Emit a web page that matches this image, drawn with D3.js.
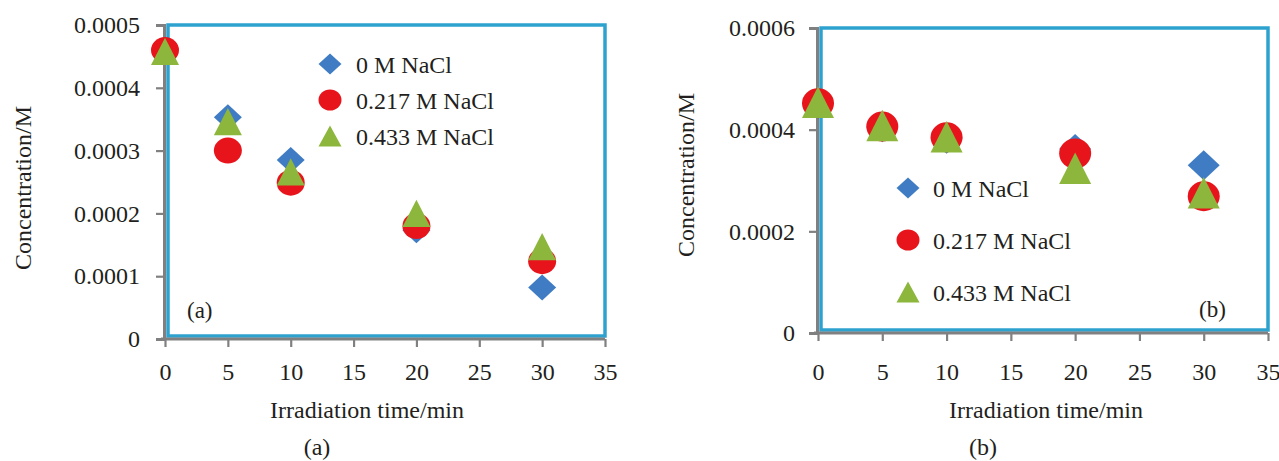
<!DOCTYPE html>
<html>
<head>
<meta charset="utf-8">
<script src="https://cdn.jsdelivr.net/npm/d3@7/dist/d3.min.js"></script>
<style>
  html, body { margin: 0; padding: 0; background: #fff; }
  svg { display: block; }
  text { font-family: "Liberation Serif", "Times New Roman", serif; fill: #231f20; }
</style>
</head>
<body>
<svg id="chart" width="1279" height="461"></svg>
<script>
// ---- data ----
const times = [0, 5, 10, 20, 30];
const seriesNames = ["0 M NaCl", "0.217 M NaCl", "0.433 M NaCl"];
const seriesColors = ["#3f7cc4", "#e8141c", "#8cb63c"];
const seriesShapes = ["diamond", "circle", "triangle"];

// Panel (a)
const a_0M   = [0.000460, 0.000353, 0.000285, 0.000173, 0.000082];
const a_217M = [0.000460, 0.000300, 0.000249, 0.000180, 0.000124];
const a_433M = [0.000458, 0.000346, 0.000266, 0.000200, 0.000147];
// Panel (b)
const b_0M   = [0.000452, 0.000405, 0.000382, 0.000362, 0.000330];
const b_217M = [0.000452, 0.000406, 0.000385, 0.000353, 0.000269];
const b_433M = [0.000454, 0.000408, 0.000386, 0.000324, 0.000276];

const xTicks = [0, 5, 10, 15, 20, 25, 30, 35];
const xTickLabels = ["0", "5", "10", "15", "20", "25", "30", "35"];
const aYTicks = [0, 0.0001, 0.0002, 0.0003, 0.0004, 0.0005];
const aYTickLabels = ["0", "0.0001", "0.0002", "0.0003", "0.0004", "0.0005"];
const bYTicks = [0, 0.0002, 0.0004, 0.0006];
const bYTickLabels = ["0", "0.0002", "0.0004", "0.0006"];

const xTitle = "Irradiation time/min";
const yTitle = "Concentration/M";

const svg = d3.select("#chart");

function shapePath(shape, w, h) {
  const hw = w / 2, hh = h / 2;
  if (shape === "diamond") return `M0,${-hh}L${hw},0L0,${hh}L${-hw},0Z`;
  if (shape === "triangle") return `M0,${-hh}L${hw},${hh}L${-hw},${hh}Z`;
  return `M${-hw},0A${hw},${hh} 0 1,0 ${hw},0A${hw},${hh} 0 1,0 ${-hw},0Z`;
}

function drawPanel(cfg) {
  const g = svg.append("g");
  const x = d3.scaleLinear().domain([0, 35]).range([cfg.x0, cfg.x1]);
  const y = d3.scaleLinear().domain([0, cfg.yMax]).range([cfg.y0, cfg.y1]);

  // blue frame
  g.append("rect")
    .attr("x", cfg.x0 + 3).attr("y", cfg.y1)
    .attr("width", cfg.x1 - cfg.x0 - 3).attr("height", cfg.y0 - 3 - cfg.y1)
    .attr("fill", "none").attr("stroke", "#2ea2cf").attr("stroke-width", 3.5);

  // axes
  const xAxis = d3.axisBottom(x).tickValues(xTicks)
    .tickFormat((d, i) => xTickLabels[i]).tickSizeOuter(0).tickSize(8).tickPadding(cfg.xPad);
  const yAxis = d3.axisLeft(y).tickValues(cfg.yTicks)
    .tickFormat((d, i) => cfg.yTickLabels[i]).tickSizeOuter(0).tickSize(8).tickPadding(cfg.yPad);

  const gx = g.append("g").attr("transform", `translate(0,${cfg.y0})`).call(xAxis);
  const gy = g.append("g").attr("transform", `translate(${cfg.x0 - 1},0)`).call(yAxis);
  [gx, gy].forEach(ax => {
    ax.select(".domain").attr("stroke", "#808080").attr("stroke-width", 3);
    ax.selectAll(".tick line").attr("stroke", "#808080").attr("stroke-width", 2.2);
    ax.selectAll(".tick text").attr("font-size", cfg.tickFont + "px")
      .attr("font-family", "Liberation Serif").attr("fill", "#231f20");
  });
  gx.select(".domain").attr("d", `M${cfg.x0 - 4},0H${cfg.x1}`);

  // data points
  cfg.series.forEach((vals, si) => {
    const tri = seriesShapes[si] === "triangle";
    g.append("g").selectAll("path")
      .data(vals.map((v, i) => ({ t: times[i], v })))
      .join("path")
      .attr("transform", d => `translate(${x(d.t)},${y(d.v)})`)
      .attr("d", shapePath(seriesShapes[si], cfg.markW, tri ? cfg.markH * 1.05 : cfg.markH))
      .attr("fill", seriesColors[si]);
  });

  // legend
  seriesNames.forEach((name, i) => {
    const ly = cfg.legY + i * cfg.legStep;
    g.append("path")
      .attr("transform", `translate(${cfg.legX},${ly})`)
      .attr("d", shapePath(seriesShapes[i], cfg.legMark, cfg.legMark * 0.92))
      .attr("fill", seriesColors[i]);
    g.append("text").attr("x", cfg.legTextX).attr("y", ly).attr("dy", "0.36em")
      .attr("font-size", cfg.legFont + "px").text(name);
  });

  // inner panel label
  g.append("text").attr("x", cfg.innerX).attr("y", cfg.innerY)
    .attr("font-size", cfg.innerFont + "px").text(cfg.label);

  // axis titles
  g.append("text").attr("x", cfg.xTitleX).attr("y", 418)
    .attr("text-anchor", "middle").attr("font-size", cfg.xTitleFont + "px").text(xTitle);
  g.append("text").attr("transform", `translate(${cfg.yTitleX},${cfg.yTitleY}) rotate(-90)`)
    .attr("text-anchor", "middle").attr("font-size", cfg.yTitleFont + "px").text(yTitle);

  // caption
  g.append("text").attr("x", cfg.capX).attr("y", 455)
    .attr("text-anchor", "middle").attr("font-size", "24px").text(cfg.label);
}

drawPanel({
  x0: 165, x1: 605, y0: 339, y1: 25, yMax: 0.0005,
  yTicks: aYTicks, yTickLabels: aYTickLabels,
  series: [a_0M, a_217M, a_433M],
  xPad: 16, yPad: 16, tickFont: 24,
  markW: 28, markH: 26,
  legX: 330, legY: 64, legStep: 36, legTextX: 356, legFont: 24, legMark: 23,
  innerX: 187, innerY: 318, innerFont: 23, label: "(a)",
  xTitleX: 367, xTitleFont: 24,
  yTitleX: 31, yTitleY: 188, yTitleFont: 24,
  capX: 317
});

drawPanel({
  x0: 818, x1: 1268, y0: 333, y1: 28, yMax: 0.0006,
  yTicks: bYTicks, yTickLabels: bYTickLabels,
  series: [b_0M, b_217M, b_433M],
  xPad: 22, yPad: 14, tickFont: 24,
  markW: 32, markH: 30,
  legX: 908, legY: 188, legStep: 52, legTextX: 933, legFont: 24, legMark: 23,
  innerX: 1199, innerY: 317, innerFont: 23, label: "(b)",
  xTitleX: 1046, xTitleFont: 24,
  yTitleX: 694, yTitleY: 175, yTitleFont: 24,
  capX: 983
});
</script>
</body>
</html>
